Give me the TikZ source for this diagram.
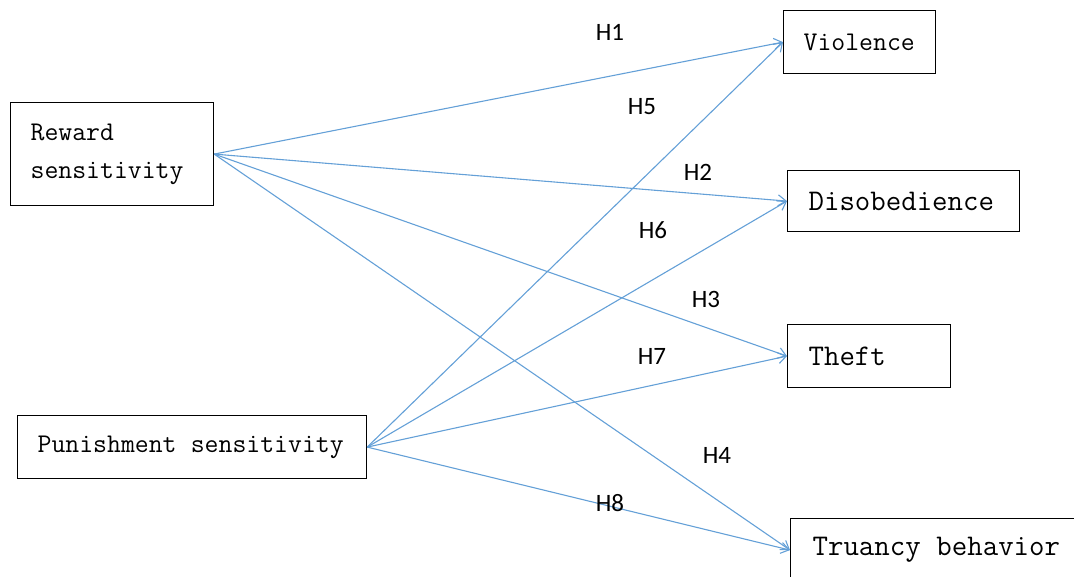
\documentclass[tikz,border=0pt]{standalone}
\usepackage{fontspec}
\usetikzlibrary{arrows.meta}
\newfontfamily\labfont{Carlito}
\newcommand\msp{\hspace*{0.525em}}
\definecolor{arrowblue}{RGB}{100,160,215}
\tikzset{
  boxnode/.style={draw=black, line width=1.2pt, rectangle, anchor=north west,
    align=left, inner ysep=0pt},
  smalltxt/.style={font=\ttfamily\fontsize{27}{38}\selectfont},
  bigtxt/.style={font=\ttfamily\fontsize{30}{38}\selectfont},
  conn/.style={draw=arrowblue, line width=1.1pt, -{Straight Barb[length=8pt,width=11pt]}},
  hlabel/.style={font=\labfont\fontsize{25}{25}\selectfont, inner sep=0pt}
}
\begin{document}
\begin{tikzpicture}[x=1pt,y=-1pt]
\useasboundingbox (0,0) rectangle (1074,577);
\clip (0,0) rectangle (1074,577);
% source boxes
\node[boxnode, smalltxt, minimum width=203pt, minimum height=103pt, inner xsep=20pt, text width=163pt] (rew) at (10,102) {Reward\\sensitivity};
\node[boxnode, smalltxt, minimum width=349pt, minimum height=63pt, inner xsep=20pt, text width=309pt] (pun) at (17,415) {Punishment\msp sensitivity};
% target boxes
\node[boxnode, smalltxt, minimum width=152pt, minimum height=63pt, inner xsep=20pt, text width=112pt] (vio) at (783,10) {Violence};
\node[boxnode, bigtxt, minimum width=232pt, minimum height=61pt, inner xsep=21pt, text width=190pt] (dis) at (787,170) {Disobedience};
\node[boxnode, bigtxt, minimum width=163pt, minimum height=63pt, inner xsep=21pt, text width=121pt] (the) at (787,324) {Theft};
\node[boxnode, bigtxt, minimum width=320pt, minimum height=63pt, inner xsep=22pt, text width=276pt] (tru) at (790,518) {Truancy\msp behavior};
% connectors
\draw[conn] (rew.east) -- (vio.west);
\draw[conn] (rew.east) -- (dis.west);
\draw[conn] (rew.east) -- (the.west);
\draw[conn] (rew.east) -- (tru.west);
\draw[conn] (pun.east) -- (vio.west);
\draw[conn] (pun.east) -- (dis.west);
\draw[conn] (pun.east) -- (the.west);
\draw[conn] (pun.east) -- (tru.west);
% labels
\node[hlabel] (h1) at (610,32) {H1};
\node[hlabel] (h5) at (642,107) {H5};
\node[hlabel] (h2) at (698,172) {H2};
\node[hlabel] (h6) at (653,230) {H6};
\node[hlabel] (h3) at (706,299) {H3};
\node[hlabel] (h7) at (652,356) {H7};
\node[hlabel] (h4) at (717,455) {H4};
\node[hlabel] (h8) at (610,503) {H8};
\end{tikzpicture}
\end{document}
